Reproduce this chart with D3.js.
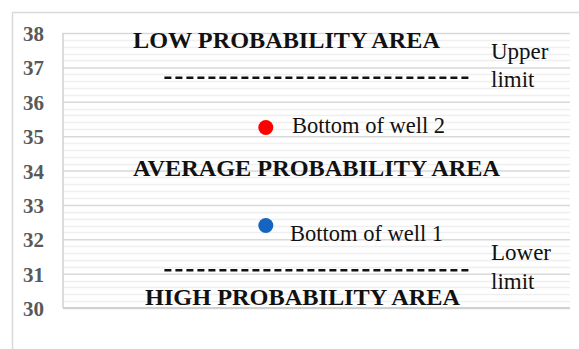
<!DOCTYPE html>
<html>
<head>
<meta charset="utf-8">
<script src="https://cdn.jsdelivr.net/npm/d3@7"></script>
<style>
  html, body { margin: 0; padding: 0; background: #fff; }
  svg { display: block; }
</style>
</head>
<body>
<svg id="chart" width="579" height="349"></svg>
<script>
// Depth scale (m) and reference values
const yTicks = [30, 31, 32, 33, 34, 35, 36, 37, 38];
const wellNames = ["Bottom of well 1", "Bottom of well 2"];
const wellDepths = [32.4, 35.25];
const wellColors = ["#1565c0", "#ff0000"];
const limitNames = [["Lower", "limit"], ["Upper", "limit"]];
const limitValues = [31.1, 36.7];
const areaNames = ["HIGH PROBABILITY AREA", "AVERAGE PROBABILITY AREA", "LOW PROBABILITY AREA"];
const areaLevels = [30.1, 33.85, 37.55];

(function () {
const svg = d3.select("#chart");
const W = 579, H = 349;
const mLeft = 63, mRight = 570, mTop = 33, mBottom = 308;
const serif = "'Liberation Serif', 'Times New Roman', serif";

// outer frame (top and left edges visible)
svg.append("rect").attr("x", 12.5).attr("y", 12.5).attr("width", W).attr("height", H)
  .attr("fill", "none").attr("stroke", "#d9d9d9").attr("stroke-width", 1.5);

const x = d3.scaleLinear().domain([0, 10]).range([mLeft, mRight]);
const y = d3.scaleLinear().domain([30, 38]).range([mBottom, mTop]);

// minor gridlines
const minor = d3.range(30, 38.001, 0.2).filter(v => Math.abs(v - Math.round(v)) > 0.01);
svg.append("g").selectAll("line").data(minor).join("line")
  .attr("x1", mLeft).attr("x2", mRight)
  .attr("y1", d => Math.round(y(d)) + 0.5).attr("y2", d => Math.round(y(d)) + 0.5)
  .attr("stroke", "#efefef").attr("stroke-width", 1.5);

// major gridlines + labels via axis
const yAxis = d3.axisLeft(y).tickValues(yTicks).tickSize(-(mRight - mLeft)).tickFormat(d3.format("d"));
const ga = svg.append("g").attr("transform", `translate(${mLeft},0)`).call(yAxis);
ga.select(".domain").remove();
ga.selectAll(".tick line").attr("stroke", "#d9d9d9").attr("stroke-width", 1.5);
ga.selectAll(".tick text")
  .attr("x", -19)
  .attr("dy", "0.36em")
  .attr("fill", "#595959")
  .style("font-family", serif)
  .style("font-weight", "bold")
  .style("font-size", "21px");

// plot border (left and bottom)
svg.append("line").attr("x1", mLeft).attr("x2", mLeft).attr("y1", mTop).attr("y2", mBottom)
  .attr("stroke", "#d0d0d0").attr("stroke-width", 1.5);
svg.append("line").attr("x1", mLeft).attr("x2", mRight).attr("y1", mBottom).attr("y2", mBottom)
  .attr("stroke", "#d0d0d0").attr("stroke-width", 2);

// limit lines
svg.append("g").selectAll("line").data(limitValues).join("line")
  .attr("x1", x(2)).attr("x2", x(8))
  .attr("y1", d => y(d)).attr("y2", d => y(d))
  .attr("stroke", "#111").attr("stroke-width", 2.5)
  .attr("stroke-dasharray", "7,4");

// limit labels
limitValues.forEach((v, i) => {
  const t = svg.append("text").attr("font-family", serif)
    .attr("font-size", "23px").attr("fill", "#111");
  const base = i === 1 ? y(v) - 19 : y(v) - 10;
  t.append("tspan").attr("x", 491).attr("y", base).text(limitNames[i][0]);
  t.append("tspan").attr("x", 491).attr("y", base + 28.5).text(limitNames[i][1]);
});

// area labels
svg.append("g").selectAll("text").data(areaNames).join("text")
  .attr("x", (d, i) => [302.5, 316.5, 286.5][i])
  .attr("y", (d, i) => y(areaLevels[i]))
  .attr("text-anchor", "middle")
  .attr("font-family", serif).attr("font-weight", "bold")
  .attr("font-size", "23.5px").attr("fill", "#111")
  .attr("textLength", (d, i) => [315, 367, 307][i])
  .attr("lengthAdjust", "spacingAndGlyphs")
  .text(d => d);

// well points
svg.append("g").selectAll("circle").data(wellDepths).join("circle")
  .attr("cx", x(4)).attr("cy", d => y(d)).attr("r", 7.5)
  .attr("fill", (d, i) => wellColors[i]);

svg.append("g").selectAll("text").data(wellNames).join("text")
  .attr("x", (d, i) => [290, 292][i])
  .attr("y", (d, i) => y(wellDepths[i]) + [15, 5][i])
  .attr("font-family", serif).attr("font-size", "22.5px").attr("fill", "#111")
  .text(d => d);
})();
</script>
</body>
</html>
